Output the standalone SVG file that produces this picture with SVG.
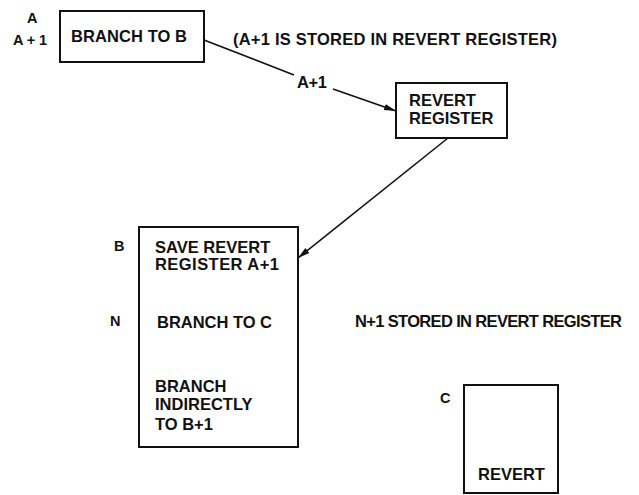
<svg xmlns="http://www.w3.org/2000/svg" width="639" height="495" viewBox="0 0 639 495">
<style>
text{font-family:"Liberation Sans",Arial,sans-serif;font-weight:bold;font-size:16.5px;fill:#111}
.sm{font-size:14.5px}
rect{fill:none;stroke:#111;stroke-width:2}
.c{stroke:#111;stroke-width:1.6;fill:none}
</style>
<defs>
<marker id="ah" viewBox="0 0 12 10" refX="12" refY="5" markerWidth="12" markerHeight="10" markerUnits="userSpaceOnUse" orient="auto">
<path d="M0,1.8 L12,5 L0,8.2 z" fill="#111"/>
</marker>
</defs>
<rect fill="#fff" width="639" height="495" style="fill:#fff;stroke:none"/>
<g id="nodeA">
<rect x="60" y="11" width="144" height="51"/>
<text x="71" y="42" textLength="116">BRANCH TO B</text>
<text class="sm" x="27" y="23">A</text>
<text class="sm" x="13" y="45" textLength="34">A + 1</text>
</g>
<g id="note1">
<text x="233" y="45" textLength="324">(A+1 IS STORED IN REVERT REGISTER)</text>
</g>
<g id="revert-register">
<rect x="396" y="83" width="111" height="55"/>
<text x="409" y="106">REVERT</text>
<text x="409" y="124">REGISTER</text>
</g>
<g id="nodeB">
<rect x="139" y="227" width="159" height="220"/>
<text x="155" y="253">SAVE REVERT</text>
<text x="155" y="270" textLength="124">REGISTER A+1</text>
<text x="157" y="328" textLength="115">BRANCH TO C</text>
<text x="155" y="392">BRANCH</text>
<text x="155" y="410">INDIRECTLY</text>
<text x="155" y="430">TO B+1</text>
<text class="sm" x="114" y="251">B</text>
<text class="sm" x="110" y="326">N</text>
</g>
<g id="note2">
<text x="355" y="327" textLength="267">N+1 STORED IN REVERT REGISTER</text>
</g>
<g id="nodeC">
<rect x="464" y="385" width="94" height="108"/>
<text x="478" y="480">REVERT</text>
<text class="sm" x="440" y="403">C</text>
</g>
<g id="connectors">
<text x="297" y="88" textLength="30">A+1</text>
<line class="c" x1="204" y1="40" x2="294" y2="75"/>
<line class="c" x1="333" y1="89" x2="396" y2="111" marker-end="url(#ah)"/>
<line class="c" x1="448" y1="138" x2="298" y2="258" marker-end="url(#ah)"/>
</g>
</svg>
